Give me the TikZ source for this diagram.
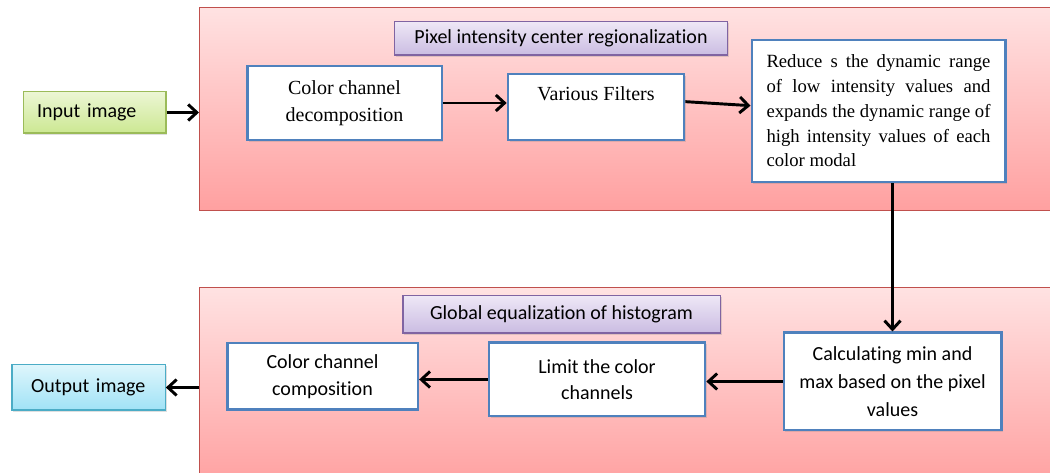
\documentclass[tikz,border=0pt]{standalone}
\usepackage{fontspec}
\setmainfont[Ligatures=NoCommon]{Carlito}
\newfontfamily\timesfont{Liberation Serif}
\usepackage{tikz}
\usetikzlibrary{arrows.meta, shadows, calc}
\definecolor{panelline}{RGB}{192,80,77}
\definecolor{paneltop}{RGB}{255,226,226}
\definecolor{panelbot}{RGB}{255,160,160}
\definecolor{boxblue}{RGB}{79,129,189}
\definecolor{greenline}{RGB}{155,187,89}
\definecolor{greentop}{RGB}{236,246,212}
\definecolor{greenbot}{RGB}{204,232,146}
\definecolor{cyanline}{RGB}{75,172,198}
\definecolor{cyantop}{RGB}{222,246,252}
\definecolor{cyanbot}{RGB}{160,226,246}
\definecolor{purpline}{RGB}{128,100,162}
\definecolor{purptop}{RGB}{238,231,246}
\definecolor{purpbot}{RGB}{202,188,226}

\begin{document}
\begin{tikzpicture}[x=0.75pt, y=-0.75pt,
  every node/.style={font=\fontsize{15}{20}\selectfont},
  panel/.style={draw=panelline, line width=0.8pt, top color=paneltop, bottom color=panelbot,
    anchor=north west, inner sep=0pt},
  stepbox/.style={draw=boxblue, line width=2pt, fill=white, align=center, inner sep=2pt,
    drop shadow={shadow xshift=1.2pt, shadow yshift=-1.2pt, opacity=0.25}},
  serifbox/.style={stepbox, font=\timesfont\fontsize{15}{20}\selectfont},
  titlebox/.style={draw=purpline, line width=1pt, top color=purptop, bottom color=purpbot,
    drop shadow={shadow xshift=1.2pt, shadow yshift=-1.2pt, opacity=0.25}},
  iobox/.style={line width=1pt, align=left, inner xsep=10.5pt, text width=86pt,
    drop shadow={shadow xshift=1.2pt, shadow yshift=-1.2pt, opacity=0.25}},
  flow/.style={-{Straight Barb[length=6.5pt, width=12pt]}, line width=2.2pt}]

  \path[use as bounding box, clip] (0,0) rectangle (1050,473);

  % the two stages
  \node[panel, minimum width=646pt, minimum height=152pt] (toppanel) at (199,7) {};
  \node[panel, minimum width=646pt, minimum height=150pt] (botpanel) at (199,287) {};

  \node[titlebox, minimum width=250pt, minimum height=25pt] (title1) at (561,38.5) {Pixel intensity center regionalization};
  \node[titlebox, minimum width=238pt, minimum height=28pt] (title2) at (561.5,314.5) {Global equalization of histogram};

  \node[iobox, draw=greenline, top color=greentop, bottom color=greenbot,
    minimum width=107pt, minimum height=31pt] (input) at (94.5,112.5) {Input image};
  \node[iobox, draw=cyanline, top color=cyantop, bottom color=cyanbot,
    minimum width=115pt, minimum height=34pt] (output) at (88.5,387.5) {Output image};

  \node[serifbox, minimum width=146pt, minimum height=55.5pt] (decomp) at (344.5,103) {Color channel\\decomposition};
  \node[serifbox, minimum width=132pt, minimum height=49.5pt] (filters) at (596,107) {Various Filters\\ \mbox{}};
  \node[serifbox, minimum width=190pt, minimum height=106.5pt, text width=168pt, align=justify,
    font=\timesfont\fontsize{14}{18.6}\selectfont] (reduce) at (878.5,111)
    {Reduce s the dynamic range\linebreak of low intensity values and\linebreak expands the dynamic range of\linebreak high intensity values of each\linebreak color modal};

  \node[stepbox, minimum width=163pt, minimum height=73pt, font=\fontsize{15}{21}\selectfont] (calc) at (892.5,381.5) {Calculating min and\\max based on the pixel\\values};
  \node[stepbox, minimum width=162pt, minimum height=55pt] (limit) at (597,379.5) {Limit the color\\channels};
  \node[stepbox, minimum width=143pt, minimum height=50pt] (compose) at (322.5,376.5) {Color channel\\composition};

  \draw[flow] (input.east) -- (input -| toppanel.west);
  \draw[flow] (decomp.east) -- (decomp.east -| filters.west);
  \draw[flow] ([yshift=4pt]filters.east) -- ([yshift=4pt]reduce.west);
  \draw[flow] (calc.north |- reduce.south) -- (calc.north);
  \draw[flow] (calc.west) -- (calc.west -| limit.east);
  \draw[flow] (limit.west) -- (limit.west -| compose.east);
  \draw[flow] (output -| botpanel.west) -- (output.east);
\end{tikzpicture}
\end{document}
